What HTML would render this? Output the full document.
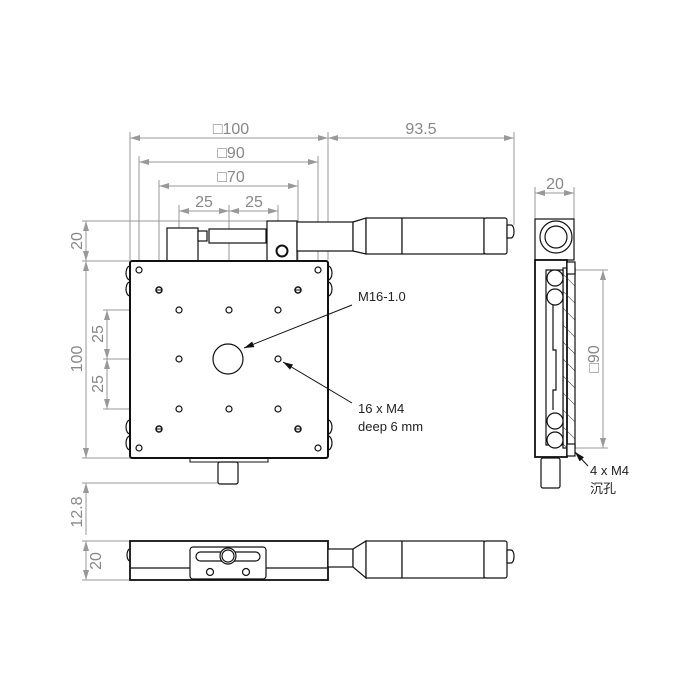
<!DOCTYPE html>
<html><head><meta charset="utf-8"><style>
html,body{margin:0;padding:0;background:#fff;}
svg{display:block;}
.d{stroke:#999;stroke-width:1;fill:none;}
.o{stroke:#111;stroke-width:1.2;fill:#fff;}
.t{font-family:"Liberation Sans","Noto Sans CJK SC",sans-serif;fill:#888;font-size:16px;}
.k{font-family:"Liberation Sans","Noto Sans CJK SC",sans-serif;fill:#222;font-size:13px;}
</style></head><body>
<svg width="700" height="700" viewBox="0 0 700 700" xmlns="http://www.w3.org/2000/svg">
<defs>
<marker id="a" viewBox="0 0 10 6" refX="10" refY="3" markerWidth="10" markerHeight="6" orient="auto-start-reverse" markerUnits="userSpaceOnUse"><path d="M0,0L10,3L0,6z" fill="#999"/></marker>
<marker id="b" viewBox="0 0 10 6" refX="10" refY="3" markerWidth="10" markerHeight="6" orient="auto" markerUnits="userSpaceOnUse"><path d="M0,0L10,3L0,6z" fill="#111"/></marker>
<pattern id="h" width="12" height="12" patternUnits="userSpaceOnUse" patternTransform="rotate(-45)"><line x1="0" y1="0" x2="0" y2="12" stroke="#333" stroke-width="1"/></pattern>
</defs>
<g class="d">
<line x1="130" y1="132" x2="130" y2="260"/><line x1="328" y1="132" x2="328" y2="260"/>
<line x1="514" y1="132" x2="514" y2="225"/>
<line x1="139" y1="156" x2="139" y2="266"/><line x1="318" y1="156" x2="318" y2="266"/>
<line x1="159" y1="180" x2="159" y2="286"/><line x1="298" y1="180" x2="298" y2="286"/>
<line x1="179" y1="205" x2="179" y2="306"/><line x1="229" y1="205" x2="229" y2="306"/><line x1="278" y1="205" x2="278" y2="306"/>
<line x1="82" y1="221" x2="267" y2="221"/>
<line x1="82" y1="261" x2="130" y2="261"/>
<line x1="82" y1="458" x2="130" y2="458"/>
<line x1="82" y1="483" x2="221" y2="483"/>
<line x1="103" y1="310" x2="175" y2="310"/><line x1="103" y1="359" x2="175" y2="359"/><line x1="103" y1="409" x2="175" y2="409"/>
<line x1="82" y1="541" x2="130" y2="541"/><line x1="82" y1="580" x2="130" y2="580"/>
<line x1="535" y1="187" x2="535" y2="219"/><line x1="574" y1="187" x2="574" y2="219"/>
<line x1="567" y1="270" x2="608" y2="270"/><line x1="567" y1="448" x2="608" y2="448"/>
<line x1="130" y1="138" x2="328" y2="138" marker-start="url(#a)" marker-end="url(#a)"/>
<line x1="328" y1="138" x2="514" y2="138" marker-start="url(#a)" marker-end="url(#a)"/>
<line x1="139" y1="162" x2="318" y2="162" marker-start="url(#a)" marker-end="url(#a)"/>
<line x1="159" y1="186" x2="298" y2="186" marker-start="url(#a)" marker-end="url(#a)"/>
<line x1="179" y1="211" x2="229" y2="211" marker-start="url(#a)" marker-end="url(#a)"/>
<line x1="229" y1="211" x2="278" y2="211" marker-start="url(#a)" marker-end="url(#a)"/>
<line x1="86" y1="221" x2="86" y2="261" marker-start="url(#a)" marker-end="url(#a)"/>
<line x1="86" y1="261" x2="86" y2="458" marker-start="url(#a)" marker-end="url(#a)"/>
<line x1="86" y1="535" x2="86" y2="483" marker-end="url(#a)"/>
<line x1="107" y1="310" x2="107" y2="359" marker-start="url(#a)" marker-end="url(#a)"/>
<line x1="107" y1="359" x2="107" y2="409" marker-start="url(#a)" marker-end="url(#a)"/>
<line x1="86" y1="541" x2="86" y2="580" marker-start="url(#a)" marker-end="url(#a)"/>
<line x1="535" y1="193" x2="574" y2="193" marker-start="url(#a)" marker-end="url(#a)"/>
<line x1="603" y1="270" x2="603" y2="448" marker-start="url(#a)" marker-end="url(#a)"/>
</g>
<text class="t" x="231" y="134" text-anchor="middle">□100</text>
<text class="t" x="421" y="134" text-anchor="middle">93.5</text>
<text class="t" x="231" y="158" text-anchor="middle">□90</text>
<text class="t" x="231" y="182" text-anchor="middle">□70</text>
<text class="t" x="204" y="207" text-anchor="middle">25</text>
<text class="t" x="254" y="207" text-anchor="middle">25</text>
<text class="t" x="555" y="189" text-anchor="middle">20</text>
<text class="t" transform="translate(82,241) rotate(-90)" text-anchor="middle">20</text>
<text class="t" transform="translate(82,359) rotate(-90)" text-anchor="middle">100</text>
<text class="t" transform="translate(103,334) rotate(-90)" text-anchor="middle">25</text>
<text class="t" transform="translate(103,384) rotate(-90)" text-anchor="middle">25</text>
<text class="t" transform="translate(82,512) rotate(-90)" text-anchor="middle">12.8</text>
<text class="t" transform="translate(101,561) rotate(-90)" text-anchor="middle">20</text>
<text class="t" transform="translate(599,359) rotate(-90)" text-anchor="middle">□90</text>

<g class="o">
<rect x="167" y="228" width="31" height="33"/>
<rect x="198" y="231" width="9" height="10"/>
<rect x="209" y="229" width="57" height="14"/>
<rect x="267" y="221" width="30" height="40"/>
<circle cx="282" cy="251" r="5.5" stroke-width="2"/>
<rect x="297" y="222" width="56" height="29"/>
<path d="M353,222 L366,218 L366,254 L353,251 Z"/>
<rect x="366" y="218" width="36" height="36"/>
<rect x="402" y="218" width="82" height="36"/>
<rect x="484" y="218" width="23" height="36" rx="2"/>
<path d="M507,225 h4 a3,6 0 0 1 3,6 v1 a3,6 0 0 1 -3,6 h-4z"/>
<path d="M130,266 a4,7 0 0 0 0,14 M130,282 a4,7 0 0 0 0,14 M130,420 a4,7 0 0 0 0,14 M130,436 a4,7 0 0 0 0,14"/>
<path d="M328,266 a4,7 0 0 1 0,14 M328,282 a4,7 0 0 1 0,14 M328,420 a4,7 0 0 1 0,14 M328,436 a4,7 0 0 1 0,14"/>
<rect x="190" y="458" width="78" height="4" stroke-width="1"/>
<rect x="218" y="462" width="20" height="22" rx="2"/>
<rect x="130" y="261" width="198" height="197" rx="2" stroke-width="2"/>
</g>
<g class="o" stroke-width="1">
<circle cx="139" cy="270" r="3"/><circle cx="318" cy="270" r="3"/><circle cx="139" cy="448" r="3"/><circle cx="318" cy="448" r="3"/>
<circle cx="179" cy="310" r="3"/><circle cx="229" cy="310" r="3"/><circle cx="278" cy="310" r="3"/>
<circle cx="179" cy="359" r="3"/><circle cx="278" cy="359" r="3"/>
<circle cx="179" cy="409" r="3"/><circle cx="229" cy="409" r="3"/><circle cx="278" cy="409" r="3"/>
<circle cx="228" cy="359" r="15"/>
</g>
<g fill="#fff" stroke="#111" stroke-width="1.5">
<circle cx="159" cy="290" r="3"/><circle cx="298" cy="290" r="3"/><circle cx="159" cy="429" r="3"/><circle cx="298" cy="429" r="3"/>
</g>
<g stroke="#111" stroke-width="1">
<line x1="156" y1="290" x2="162" y2="290"/><line x1="295" y1="290" x2="301" y2="290"/><line x1="156" y1="429" x2="162" y2="429"/><line x1="295" y1="429" x2="301" y2="429"/>
<line x1="352" y1="305" x2="244" y2="348" marker-end="url(#b)"/>
<line x1="352" y1="403" x2="283" y2="362" marker-end="url(#b)"/>
<line x1="588" y1="466" x2="575" y2="452" marker-end="url(#b)"/>
</g>
<text class="k" x="358" y="301">M16-1.0</text>
<text class="k" x="358" y="413">16 x M4</text>
<text class="k" x="358" y="431">deep 6 mm</text>
<text class="k" x="590" y="475">4 x M4</text>
<text class="k" x="590" y="493">沉孔</text>

<g class="o">
<path d="M130,549 a3,6 0 0 0 0,12 M328,549 a3,6 0 0 1 0,12"/>
<rect x="130" y="541" width="198" height="39" stroke-width="1.8"/>
<line x1="130" y1="568" x2="328" y2="568"/>
<rect x="328" y="549" width="25" height="18"/>
<path d="M353,549 L366,541 L366,578 L353,567 Z"/>
<rect x="366" y="541" width="36" height="37"/>
<rect x="402" y="541" width="82" height="37"/>
<rect x="484" y="541" width="23" height="37" rx="2"/>
<path d="M507,550 h4 a3,6 0 0 1 3,6 v1 a3,6 0 0 1 -3,6 h-4z"/>
<rect x="190" y="547" width="76" height="32" rx="3"/>
<rect x="196" y="552" width="64" height="9" rx="4.5"/>
<circle cx="228" cy="556" r="8"/><circle cx="228" cy="556" r="6"/>
<circle cx="210" cy="572" r="3.5"/><circle cx="246" cy="572" r="3.5"/>
</g>

<g class="o">
<rect x="535" y="219" width="39" height="41"/>
<circle cx="556" cy="237" r="16"/><circle cx="556" cy="237" r="11"/>
<rect x="535" y="260" width="32" height="197" stroke-width="1.8"/>
<rect x="563" y="268" width="12" height="180" fill="url(#h)"/>
<rect x="567" y="262" width="8" height="12"/>
<rect x="567" y="444" width="8" height="12"/>
<path d="M546,270 h17 v175 h-17z"/>
<path d="M553,305 v45 h3 v40 h-3 v20" fill="none"/>
<circle cx="555" cy="278" r="8"/><circle cx="555" cy="297" r="8"/>
<circle cx="555" cy="421" r="8"/><circle cx="555" cy="440" r="8"/>
<rect x="541" y="458" width="19" height="30" rx="2"/>
</g>
</svg>
</body></html>
